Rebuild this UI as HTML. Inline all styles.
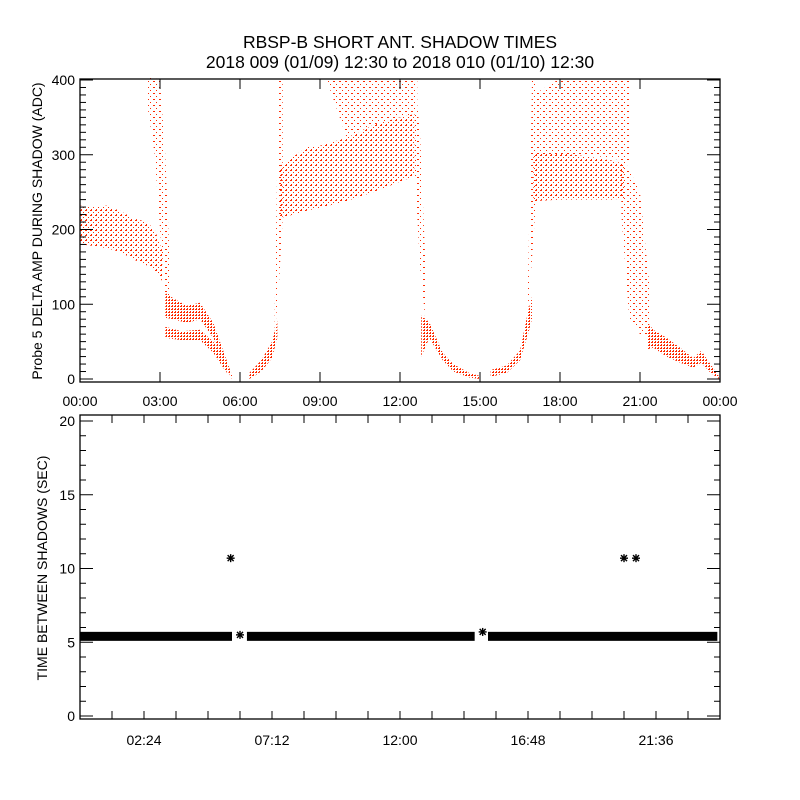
<!DOCTYPE html>
<html><head><meta charset="utf-8">
<style>
html,body{margin:0;padding:0;background:#fff;}
svg{display:block;font-family:"Liberation Sans",sans-serif;}
</style></head>
<body>
<svg id="chart" width="800" height="800" viewBox="0 0 800 800">
<defs>
<pattern id="dense" width="3" height="3" patternUnits="userSpaceOnUse"><rect x="0" y="0" width="2" height="1" fill="#ff2a00"/><rect x="1" y="2" width="1" height="1" fill="#ff2a00"/></pattern>
<pattern id="medium" width="5" height="5" patternUnits="userSpaceOnUse"><rect x="0" y="0" width="2" height="1" fill="#ff2a00"/><rect x="3" y="2" width="1" height="1" fill="#ff2a00"/><rect x="1" y="4" width="1" height="1" fill="#ff2a00"/></pattern>
<pattern id="sparse" width="6" height="6" patternUnits="userSpaceOnUse"><rect x="0" y="0" width="1" height="1" fill="#ff2a00"/><rect x="3" y="3" width="2" height="1" fill="#ff2a00"/></pattern>
</defs>
<text x="400" y="48" text-anchor="middle" font-size="17.5">RBSP-B SHORT ANT. SHADOW TIMES</text>
<text x="400" y="68" text-anchor="middle" font-size="17.5">2018 009 (01/09) 12:30 to 2018 010 (01/10) 12:30</text>
<g id="topPanel"></g>
<g id="botPanel"></g>
<text transform="translate(42,231) rotate(-90)" text-anchor="middle" font-size="14">Probe 5 DELTA AMP DURING SHADOW (ADC)</text>
<text transform="translate(47,568) rotate(-90)" text-anchor="middle" font-size="14">TIME BETWEEN SHADOWS (SEC)</text>
</svg>
<script>
// ---- Top panel data (hours, ADC bands) ----
const bandA_t=[0,0.5,1,1.5,2,2.5,2.8,3.1];
const bandA_lo=[180,178,175,170,160,152,145,130];
const bandA_hi=[232,230,232,225,215,210,200,170];
const dropA_t=[2.55,2.8,3.0,3.2,3.35];
const dropA_lo=[360,300,200,110,95];
const dropA_hi=[405,405,400,300,170];
const lowU_t=[3.2,3.5,4.0,4.5,5.0,5.4,5.7];
const lowU_lo=[82,80,75,80,55,20,0];
const lowU_hi=[115,108,98,102,75,35,5];
const lowL_t=[3.2,3.8,4.5,5.0,5.5];
const lowL_lo=[55,52,52,35,8];
const lowL_hi=[70,64,66,50,22];
const rise1_t=[6.35,6.8,7.2,7.4];
const rise1_lo=[0,10,28,55];
const rise1_hi=[8,25,50,78];
const spike1_t=[7.3,7.45,7.6];
const spike1_lo=[60,120,215];
const spike1_hi=[90,402,402];
const plat1_t=[7.5,8.5,9,10,10.5,11,12,12.6];
const plat1_lo=[215,225,229,238,244,250,264,272];
const plat1_hi=[285,310,312,323,330,340,350,355];
const plat1s_t=[9.3,10,11,12,12.65];
const plat1s_lo=[395,323,340,350,355];
const plat1s_hi=[402,402,402,402,402];
const drop1_t=[12.55,12.75,12.95];
const drop1_lo=[280,150,80];
const drop1_hi=[402,330,160];
const decay1_t=[12.8,13.1,13.6,14,14.6,15];
const decay1_lo=[30,55,25,10,2,0];
const decay1_hi=[85,76,35,20,8,4];
const rise2_t=[15.4,16,16.5,16.8,16.95];
const rise2_lo=[3,8,25,60,80];
const rise2_hi=[12,18,38,90,110];
const spike2_t=[16.8,16.95,17.1];
const spike2_lo=[90,160,240];
const spike2_hi=[130,400,400];
const plat2_t=[17,18,19,20,20.4];
const plat2_lo=[238,240,240,240,242];
const plat2_hi=[302,302,298,292,288];
const plat2s_t=[17,18,19,20,20.6];
const plat2s_lo=[300,300,300,295,290];
const plat2s_hi=[380,402,402,402,400];
const drop2_t=[20.3,20.6,21.0,21.4];
const drop2_lo=[220,80,60,55];
const drop2_hi=[300,280,250,110];
const decay2_t=[21.3,21.5,22,22.5,23,23.3,23.6,23.95];
const decay2_lo=[40,42,30,22,15,22,10,0];
const decay2_hi=[75,66,55,42,28,38,22,4];
const bands=[
 [bandA_t,bandA_lo,bandA_hi,'medium','band-initial'],
 [dropA_t,dropA_lo,dropA_hi,'sparse','band-drop-1'],
 [lowU_t,lowU_lo,lowU_hi,'dense','band-low-upper'],
 [lowL_t,lowL_lo,lowL_hi,'dense','band-low-lower'],
 [rise1_t,rise1_lo,rise1_hi,'dense','band-rise-1'],
 [spike1_t,spike1_lo,spike1_hi,'sparse','band-spike-1'],
 [plat1_t,plat1_lo,plat1_hi,'medium','band-plateau-1'],
 [plat1s_t,plat1s_lo,plat1s_hi,'sparse','band-plateau-1-upper'],
 [drop1_t,drop1_lo,drop1_hi,'sparse','band-drop-2'],
 [decay1_t,decay1_lo,decay1_hi,'dense','band-decay-1'],
 [rise2_t,rise2_lo,rise2_hi,'dense','band-rise-2'],
 [spike2_t,spike2_lo,spike2_hi,'sparse','band-spike-2'],
 [plat2_t,plat2_lo,plat2_hi,'medium','band-plateau-2'],
 [plat2s_t,plat2s_lo,plat2s_hi,'sparse','band-plateau-2-upper'],
 [drop2_t,drop2_lo,drop2_hi,'sparse','band-drop-3'],
 [decay2_t,decay2_lo,decay2_hi,'dense','band-decay-2']
];
const topYTicks=[0,100,200,300,400];
const topXTickLabels=['00:00','03:00','06:00','09:00','12:00','15:00','18:00','21:00','00:00'];
// ---- Bottom panel data ----
const segStart=[0,6.26,15.3];
const segEnd=[5.7,14.8,23.9];
const segValue=[5.4,5.4,5.4];
const starTimes=[5.65,6.0,15.1,20.4,20.85];
const starValues=[10.7,5.5,5.7,10.7,10.7];
const botYTicks=[0,5,10,15,20];
const botXTickLabels=['02:24','07:12','12:00','16:48','21:36'];

const NS='http://www.w3.org/2000/svg';
function mk(tag,attrs,parent){const e=document.createElementNS(NS,tag);for(const k in attrs)e.setAttribute(k,attrs[k]);parent.appendChild(e);return e;}
const L=80,R=720;
const xh=h=>L+h*(R-L)/24;
const T0=79,T1=382;
const yTop=v=>379-v*0.7475;
const yBot=v=>716-v*14.75;
const B0=415,B1=719;
const topG=document.getElementById('topPanel'),botG=document.getElementById('botPanel');

bands.forEach(b=>{
 const [t,lo,hi,pat,name]=b;
 let pts=t.map((h,i)=>xh(h).toFixed(1)+','+yTop(Math.min(hi[i],403)).toFixed(1));
 for(let i=t.length-1;i>=0;i--)pts.push(xh(t[i]).toFixed(1)+','+yTop(lo[i]).toFixed(1));
 const p=mk('polygon',{points:pts.join(' '),fill:'url(#'+pat+')'},topG);
 
 
});
const f1=mk('rect',{x:L,y:T0,width:R-L,height:T1-T0,fill:'none',stroke:'#000','stroke-width':1.3},topG);


for(let v=0;v<=400;v+=10){
 const major=v%100===0,len=major?13:6,y=yTop(v);
 mk('line',{x1:L,x2:L+len,y1:y,y2:y,stroke:'#000'},topG);
 mk('line',{x1:R,x2:R-len,y1:y,y2:y,stroke:'#000'},topG);
}
topYTicks.forEach(v=>{
 const t=mk('text',{x:L-5,y:yTop(v)+5,'text-anchor':'end','font-size':14},topG);t.textContent=v;
 
 
});
topXTickLabels.forEach((s,i)=>{
 const x=xh(i*3);
 mk('line',{x1:x,x2:x,y1:T1,y2:T1-10,stroke:'#000'},topG);
 mk('line',{x1:x,x2:x,y1:T0,y2:T0+10,stroke:'#000'},topG);
 const t=mk('text',{x:x,y:406,'text-anchor':'middle','font-size':14},topG);t.textContent=s;
 
 
});
segStart.forEach((s,i)=>{
 const r=mk('rect',{x:xh(s),y:yBot(segValue[i])-4.5,width:xh(segEnd[i])-xh(s),height:9,fill:'#000'},botG);
 
 
});
starTimes.forEach((h,i)=>{
 const cx=xh(h),cy=yBot(starValues[i]);
 const g=mk('g',{stroke:'#000','stroke-width':1.4},botG);
 
 
 mk('line',{x1:cx-4,x2:cx+4,y1:cy,y2:cy},g);
 mk('line',{x1:cx,x2:cx,y1:cy-4,y2:cy+4},g);
 mk('line',{x1:cx-3,x2:cx+3,y1:cy-3,y2:cy+3},g);
 mk('line',{x1:cx-3,x2:cx+3,y1:cy+3,y2:cy-3},g);
});
const f2=mk('rect',{x:L,y:B0,width:R-L,height:B1-B0,fill:'none',stroke:'#000','stroke-width':1.3},botG);


for(let v=0;v<=20;v++){
 const major=v%5===0,len=major?13:6,y=yBot(v);
 mk('line',{x1:L,x2:L+len,y1:y,y2:y,stroke:'#000'},botG);
 mk('line',{x1:R,x2:R-len,y1:y,y2:y,stroke:'#000'},botG);
}
botYTicks.forEach(v=>{
 const t=mk('text',{x:L-5,y:yBot(v)+5,'text-anchor':'end','font-size':14},botG);t.textContent=v;
 
 
});
for(let k=1;k<20;k++){
 const x=xh(k*1.2);
 mk('line',{x1:x,x2:x,y1:B1,y2:B1-8,stroke:'#000'},botG);
 mk('line',{x1:x,x2:x,y1:B0,y2:B0+8,stroke:'#000'},botG);
}
botXTickLabels.forEach((s,i)=>{
 const t=mk('text',{x:xh(2.4+i*4.8),y:745,'text-anchor':'middle','font-size':14},botG);t.textContent=s;
 
 
});
</script>
</body></html>
